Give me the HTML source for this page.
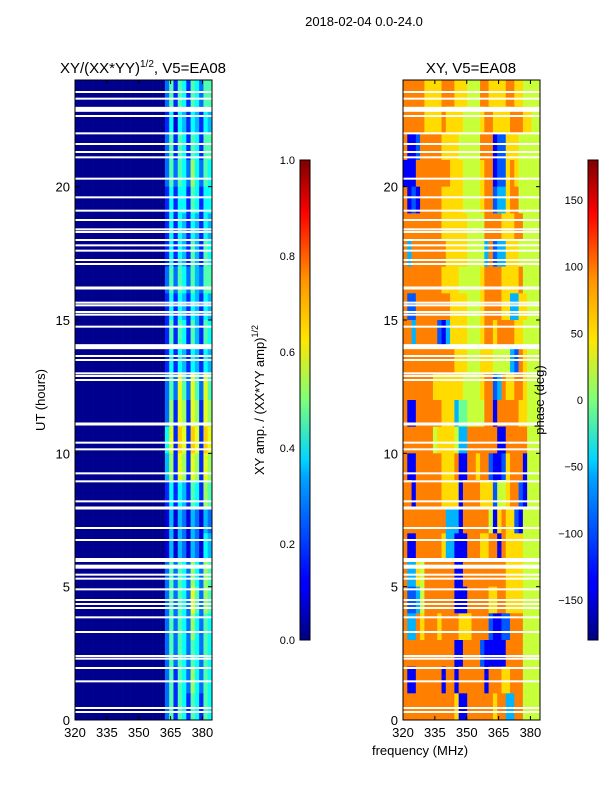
<!DOCTYPE html>
<html><head><meta charset="utf-8"><style>
body{margin:0;background:#fff;}
svg{display:block;font-family:"Liberation Sans",sans-serif;}
</style></head><body>
<svg id="fig" width="600" height="800" viewBox="0 0 600 800">
<defs>
<linearGradient id="jet" x1="0" y1="1" x2="0" y2="0">
<stop offset="0" stop-color="#00007f"/><stop offset="0.11" stop-color="#0000ff"/>
<stop offset="0.125" stop-color="#0000ff"/><stop offset="0.34" stop-color="#00a4ff"/>
<stop offset="0.375" stop-color="#00d4ff"/><stop offset="0.5" stop-color="#7dff7a"/>
<stop offset="0.625" stop-color="#ffe600"/><stop offset="0.75" stop-color="#ff9400"/>
<stop offset="0.89" stop-color="#ff0000"/><stop offset="1" stop-color="#7f0000"/>
</linearGradient>
</defs>
<text x="364" y="26" font-size="13" text-anchor="middle">2018-02-04 0.0-24.0</text>
<text x="143" y="73" font-size="15" text-anchor="middle">XY/(XX*YY)<tspan font-size="10" dy="-6">1/2</tspan><tspan dy="6">, V5=EA08</tspan></text>
<text x="471" y="73" font-size="15" text-anchor="middle">XY, V5=EA08</text>
<g id="ampPanel"></g>
<g id="phasePanel"></g>
<g id="axes"></g>
<text transform="translate(45,400) rotate(-90)" font-size="13" text-anchor="middle">UT (hours)</text>
<text x="420" y="755" font-size="13" text-anchor="middle">frequency (MHz)</text>
<rect x="300" y="160" width="10" height="480" fill="url(#jet)" stroke="#000" stroke-width="1"/>
<rect x="588" y="160" width="10" height="480" fill="url(#jet)" stroke="#000" stroke-width="1"/>
<text transform="translate(264,400) rotate(-90)" font-size="13" text-anchor="middle">XY amp. / (XX*YY amp)<tspan font-size="9" dy="-6">1/2</tspan></text>
<text transform="translate(544,400) rotate(-90)" font-size="13" text-anchor="middle">phase (deg)</text>
</svg>
<script>
const ampRows = [ // hour 23 down to hour 0
"00000000000000000000036265265366","00000000000000000000025154254254","00000000000000000000036265265266",
"00000000000000000000036365375365","00000000000000000000025255265255","00000000000000000000025254254254",
"00000000000000000000025254264265","00000000000000000000036365364366","00000000000000000000025254254254",
"00000000000000000000026265264265","00000000000000000000025254254254","00000000000000000000036386386386",
"00000000000000000000037287287287","00000000000000000000058298298298","00000000000000000000047287287287",
"00000000000000000000025254265276","00000000000000000000014143143143","00000000000000000000014143143154",
"00000000000000000000036365375376","00000000000000000000036365386376","00000000000000000000036365375365",
"00000000000000000000036365365365","00000000000000000000036265375365","00000000000000000000036265265265"];
const phaseRows = [ // hour 23 down to hour 0
"88888777788877766688777788776666","88888777787777666678877778887766","81128888877776666688812277766666",
"11188888888777666678812278766666","81218888877777666678823378866666","88888888877777766668888777886666",
"83888888887777766663823377766666","88888888877776666678888777786666","82288888888777766678888773377666",
"88388888213777766678878888776666","88888888888877766677766663287666","88888887777777666678823877887666",
"81188888877735566668818888877666","88888886777763388888881188888666","81188888877781188788211278881666",
"88188888877771888877726678821666","88888888883331888888617877216666","81188888873311188877881877776666",
"83376888888811888888888877776666","82236888888811188888778877776666","83387888788887778888211228886666",
"88888888888811888821111188886666","81188888818818888881888778886666","88888888888871188888878833886666"];
const flagHours = [0.3,0.45,1.45,1.95,2.3,2.4,3.3,3.85,4.2,4.35,4.5,4.9,5.3,5.45,5.75,6.0,6.75,7.2,7.95,8.2,8.95,9.25,10.15,10.4,11.1,12.75,12.9,13.0,13.5,13.65,14.0,14.75,15.2,15.3,15.55,15.65,16.2,17.1,17.25,17.6,17.8,18.0,18.3,18.4,18.75,19.1,19.6,20.3,21.1,21.3,21.6,22.0,22.65,22.9,23.3,23.55];
const flagWidths = [1,1,1,1,1,1,1,1,1,1,1,1,1,1,3,3,1,1,2,1,1,1,1,1,2,1,1,1,1,1,4,1,1,1,1,1,2,1,1,1,1,1,1,1,1,1,1,1,1,1,1,1,1,4,1,1];
const freqTicks = [320,335,350,365,380];
const hourTicks = [0,5,10,15,20];
const ampTicks = [0.0,0.2,0.4,0.6,0.8,1.0];
const phaseTicks = [-150,-100,-50,0,50,100,150];

const NS="http://www.w3.org/2000/svg";
const F0=320,F1=384.5,H0=0,H1=24,TOP=80,BOT=720;
function yOf(h){return BOT-(h-H0)/(H1-H0)*(BOT-TOP);}
function xOf(left,f){return left+(f-F0)/(F1-F0)*137;}
function jet(v){v=Math.max(0,Math.min(1,v));
 const c=x=>Math.max(0,Math.min(1,x));
 const r=c(1.5-Math.abs(4*v-3)),g=c(1.5-Math.abs(4*v-2)),b=c(1.5-Math.abs(4*v-1));
 return `rgb(${Math.round(r*255)},${Math.round(g*255)},${Math.round(b*255)})`;}
function mk(tag,attrs,parent){const e=document.createElementNS(NS,tag);for(const k in attrs)e.setAttribute(k,attrs[k]);parent.appendChild(e);return e;}
function drawHeat(g,left,rows,valFn){
 const nR=rows.length,nC=rows[0].length,fw=(F1-F0)/nC;
 rows.forEach((row,ri)=>{const h=H1-ri-1;
  for(let ci=0;ci<nC;ci++){const x0=xOf(left,F0+ci*fw),x1=xOf(left,F0+(ci+1)*fw);
   const r=mk('rect',{x:x0,y:yOf(h+1),width:x1-x0+0.3,height:yOf(h)-yOf(h+1)+0.3,fill:jet(valFn(+row[ci]))},g);
   
   }});
 flagHours.forEach((fh,i)=>{const r=mk('rect',{x:left,y:yOf(fh)-flagWidths[i]/2-0.5,width:137,height:flagWidths[i]+1,fill:'#fff'},g);
  
  });
}
drawHeat(document.getElementById('ampPanel'),75,ampRows,d=>0.015+d*0.073);
drawHeat(document.getElementById('phasePanel'),403,phaseRows,d=>0.03+d*0.09);
const ax=document.getElementById('axes');
[75,403].forEach((left,pi)=>{
 const fr=mk('rect',{x:left,y:TOP,width:137,height:BOT-TOP,fill:'none',stroke:'#000','stroke-width':1},ax);
 
 
 freqTicks.forEach(f=>{const x=xOf(left,f);
  mk('line',{x1:x,y1:BOT,x2:x,y2:BOT-4,stroke:'#000'},ax);mk('line',{x1:x,y1:TOP,x2:x,y2:TOP+4,stroke:'#000'},ax);
  const t=mk('text',{x:x,y:BOT+17,'font-size':13,'text-anchor':'middle'},ax);t.textContent=f;
  
  });
 hourTicks.forEach(h=>{const y=yOf(h);
  mk('line',{x1:left,y1:y,x2:left+4,y2:y,stroke:'#000'},ax);mk('line',{x1:left+137,y1:y,x2:left+133,y2:y,stroke:'#000'},ax);
  const t=mk('text',{x:left-5,y:y+5,'font-size':13,'text-anchor':'end'},ax);t.textContent=h;
  
  });
});
ampTicks.forEach(v=>{const y=640-v*480;
 mk('line',{x1:300,y1:y,x2:310,y2:y,stroke:'#000'},ax);
 const t=mk('text',{x:295,y:y+4,'font-size':11,'text-anchor':'end'},ax);t.textContent=v.toFixed(1);
 
 });
phaseTicks.forEach(v=>{const y=400-v*480/360;
 mk('line',{x1:588,y1:y,x2:598,y2:y,stroke:'#000'},ax);
 const t=mk('text',{x:583,y:y+4,'font-size':11,'text-anchor':'end'},ax);t.textContent=v<0?'\u2212'+(-v):v;
 
 });
</script>
</body></html>
